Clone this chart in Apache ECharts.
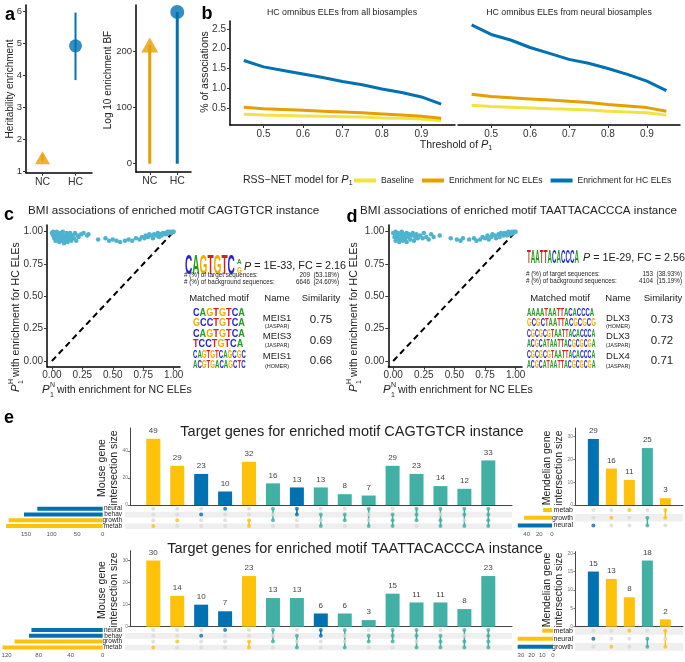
<!DOCTYPE html>
<html><head><meta charset="utf-8">
<script src="https://cdn.jsdelivr.net/npm/echarts@6/dist/echarts.min.js"></script>
<style>html,body{margin:0;padding:0;background:#fff}#chart{width:685px;height:662px}</style>
</head><body><div id="chart"></div>
<script>
// ================= DATA =================
// Panel a
const aCategories = ['NC', 'HC'];
const heritEnrich = [1.42, 4.92];
const heritLow = [1.32, 3.85];
const heritHigh = [1.52, 5.96];
const log10BF = [212, 271];

// Panel b
const thresholds = [0.45, 0.50, 0.55, 0.60, 0.65, 0.70, 0.75, 0.80, 0.85, 0.90, 0.95];
const allBaseline = [0.34, 0.32, 0.31, 0.30, 0.29, 0.28, 0.27, 0.25, 0.24, 0.22, 0.18];
const allNC = [0.52, 0.48, 0.46, 0.44, 0.42, 0.40, 0.38, 0.35, 0.32, 0.29, 0.24];
const allHC = [1.70, 1.54, 1.45, 1.36, 1.27, 1.17, 1.09, 0.98, 0.89, 0.78, 0.60];
const neuralBaseline = [0.57, 0.54, 0.52, 0.50, 0.48, 0.47, 0.45, 0.42, 0.40, 0.38, 0.32];
const neuralNC = [0.85, 0.79, 0.76, 0.73, 0.70, 0.67, 0.64, 0.59, 0.55, 0.51, 0.42];
const neuralHC = [2.60, 2.36, 2.22, 2.03, 1.88, 1.73, 1.63, 1.50, 1.35, 1.18, 0.94];
const seriesNames = ['Baseline', 'Enrichment for NC ELEs', 'Enrichment for HC ELEs'];

// Panel c / d scatter points [P1N, P1H]
const motifCPoints = [[0.00,0.99],[0.01,0.97],[0.01,1.00],[0.02,0.95],[0.02,0.98],[0.03,0.93],[0.03,0.99],[0.04,0.96],[0.04,1.00],[0.05,0.94],[0.05,0.98],[0.06,0.92],[0.06,0.97],[0.07,0.99],[0.07,0.95],[0.08,0.93],[0.08,0.98],[0.09,0.96],[0.09,1.00],[0.10,0.91],[0.10,0.95],[0.11,0.97],[0.11,0.93],[0.12,0.99],[0.12,0.95],[0.13,0.92],[0.13,0.97],[0.14,0.94],[0.15,0.99],[0.15,0.96],[0.16,0.93],[0.17,0.97],[0.18,0.95],[0.19,0.99],[0.20,0.93],[0.21,0.97],[0.22,0.96],[0.24,0.98],[0.26,0.99],[0.29,0.97],[0.30,0.98],[0.38,0.94],[0.44,0.95],[0.47,0.93],[0.50,0.94],[0.53,0.93],[0.56,0.92],[0.60,0.93],[0.63,0.94],[0.66,0.93],[0.69,0.95],[0.72,0.94],[0.74,0.96],[0.76,0.95],[0.77,0.97],[0.79,0.96],[0.80,0.98],[0.82,0.97],[0.83,0.95],[0.84,0.98],[0.86,0.97],[0.87,0.99],[0.88,0.96],[0.89,0.98],[0.90,0.97],[0.91,0.99],[0.92,0.98],[0.93,0.99],[0.94,0.98],[0.95,1.00],[0.96,0.99],[0.97,1.00],[0.98,0.99],[0.99,1.00],[1.00,1.00]];
const motifDPoints = [[0.00,0.99],[0.01,0.96],[0.02,1.00],[0.02,0.93],[0.03,0.97],[0.04,0.99],[0.04,0.95],[0.05,0.92],[0.06,0.98],[0.06,0.95],[0.07,1.00],[0.08,0.96],[0.08,0.93],[0.09,0.98],[0.10,0.95],[0.11,0.99],[0.11,0.92],[0.12,0.96],[0.13,0.98],[0.14,0.94],[0.15,0.97],[0.16,0.99],[0.17,0.93],[0.18,0.96],[0.19,0.98],[0.20,0.95],[0.22,0.97],[0.24,0.95],[0.25,0.99],[0.27,0.96],[0.29,0.94],[0.31,0.98],[0.33,0.96],[0.38,0.97],[0.47,0.95],[0.52,0.94],[0.55,0.93],[0.57,0.95],[0.62,0.94],[0.66,0.95],[0.68,0.93],[0.71,0.94],[0.73,0.96],[0.75,0.95],[0.77,0.97],[0.78,0.94],[0.80,0.96],[0.81,0.98],[0.83,0.97],[0.84,0.95],[0.86,0.98],[0.87,0.96],[0.88,0.99],[0.90,0.97],[0.91,0.99],[0.92,0.98],[0.93,0.97],[0.94,1.00],[0.95,0.99],[0.96,0.98],[0.97,1.00],[0.98,0.99],[0.99,1.00],[1.00,1.00]];

// Panel e (UpSet) - motif 1 (CAGTGTCR)
const mouseSets = ['neural', 'behav', 'growth', 'metab'];
const m1MouseSizes = [49, 29, 23, 10, 32, 16, 13, 13, 8, 7, 29, 23, 14, 12, 33];
const m1MouseCombos = [['metab'],['growth'],['behav'],['neural'],['growth','metab'],['neural','growth'],['neural','behav'],['behav','metab'],['behav','growth'],['neural','metab'],['behav','growth','metab'],['neural','behav','growth'],['neural','growth','metab'],['neural','behav','metab'],['neural','behav','growth','metab']];
const m1MouseSetSizes = [128, 154, 184, 189];
const m1MendSets = ['metab', 'growth', 'neural'];
const m1MendSizes = [29, 16, 11, 25, 3];
const m1MendCombos = [['neural'],['growth'],['metab'],['growth','neural'],['metab','growth']];
const m1MendSetSizes = [14, 44, 54];
// motif 2 (TAATTACACCCA)
const m2MouseSizes = [30, 14, 10, 7, 23, 13, 13, 6, 6, 3, 15, 11, 11, 8, 23];
const m2MouseCombos = [['metab'],['growth'],['behav'],['neural'],['growth','metab'],['neural','growth'],['behav','metab'],['neural','behav'],['neural','metab'],['behav','growth'],['neural','behav','growth'],['neural','behav','metab'],['behav','growth','metab'],['neural','growth','metab'],['neural','behav','growth','metab']];
const m2MouseSetSizes = [89, 92, 110, 125];
const m2MendSets = ['metab', 'neural', 'growth'];
const m2MendSizes = [15, 13, 8, 18, 2];
const m2MendCombos = [['neural'],['growth'],['metab'],['neural','growth'],['metab','growth']];
const m2MendSetSizes = [10, 33, 33];

// ================= STYLE / BUILD =================
const FONT = '"Liberation Sans", Arial, Helvetica, sans-serif';
const BLUE = '#0072B2', YELLOW = '#FFC20A', TEAL = '#42B0A4', ORANGE = '#E69F00', LYELLOW = '#F0E442', PTCOL = '#4DB3CF', GREYDOT = '#DADADA';
const grids = [], xAxes = [], yAxes = [], series = [], graphics = [];
function addGrid(g) { grids.push(Object.assign({ containLabel: false, outerBoundsMode: 'none' }, g)); return grids.length - 1; }
const AXL = { show: true, onZero: false, lineStyle: { color: '#000', width: 1.5 } };
function ticks(vals) { return { show: true, length: 3, customValues: vals, lineStyle: { color: '#333', width: 1 } }; }
function labs(vals, fs, fmt, extra) { return Object.assign({ customValues: vals, fontSize: fs, color: '#333', fontFamily: FONT, formatter: fmt }, extra || {}); }
const NOSPLIT = { show: false };

// ---- panel a left ----
let g = addGrid({ left: 26, top: 5, width: 66, height: 167.7 });
xAxes.push({ gridIndex: g, type: 'category', data: aCategories, axisLine: AXL, axisTick: { show: true, length: 3, alignWithLabel: true, lineStyle: { color: '#333' } }, axisLabel: { fontSize: 10.5, color: '#333', margin: 4 } });
yAxes.push({ gridIndex: g, type: 'value', min: 0.956, max: 6.197, axisLine: AXL, axisTick: ticks([1,2,3,4,5,6]), axisLabel: labs([1,2,3,4,5,6], 9.5, v => String(v), { margin: 4 }), splitLine: NOSPLIT });
const aColors = [ORANGE, BLUE];
series.push({ type: 'custom', xAxisIndex: xAxes.length - 1, yAxisIndex: yAxes.length - 1, encode: { x: 0, y: [1, 2] },
  data: aCategories.map((c, i) => ({ value: [i, heritLow[i], heritHigh[i]], itemStyle: { color: aColors[i] } })),
  renderItem: (p, api) => { const a = api.coord([api.value(0), api.value(1)]), b = api.coord([api.value(0), api.value(2)]);
    return { type: 'line', shape: { x1: a[0], y1: a[1], x2: b[0], y2: b[1] }, style: { stroke: api.visual('color'), lineWidth: 2 } }; } });
series.push({ type: 'scatter', xAxisIndex: xAxes.length - 1, yAxisIndex: yAxes.length - 1,
  data: [{ value: [0, heritEnrich[0]], symbol: 'triangle', symbolSize: [15, 13], itemStyle: { color: ORANGE } },
         { value: [1, heritEnrich[1]], symbol: 'circle', symbolSize: 13, itemStyle: { color: BLUE } }] });

// ---- panel a right ----
g = addGrid({ left: 136, top: 5, width: 55, height: 167 });
xAxes.push({ gridIndex: g, type: 'category', data: aCategories, axisLine: AXL, axisTick: { show: true, length: 3, alignWithLabel: true, lineStyle: { color: '#333' } }, axisLabel: { fontSize: 10.5, color: '#333', margin: 4 } });
yAxes.push({ gridIndex: g, type: 'value', min: -14.8, max: 283.4, axisLine: AXL, axisTick: ticks([0,100,200]), axisLabel: labs([0,100,200], 9.5, v => String(v), { margin: 4 }), splitLine: NOSPLIT });
series.push({ type: 'bar', xAxisIndex: xAxes.length - 1, yAxisIndex: yAxes.length - 1, barWidth: 3,
  data: log10BF.map((v, i) => ({ value: v, itemStyle: { color: aColors[i] } })) });
series.push({ type: 'scatter', xAxisIndex: xAxes.length - 1, yAxisIndex: yAxes.length - 1,
  data: [{ value: [0, log10BF[0]], symbol: 'triangle', symbolSize: [17, 15], itemStyle: { color: ORANGE } },
         { value: [1, log10BF[1]], symbol: 'circle', symbolSize: 14, itemStyle: { color: BLUE } }] });

// ---- panel b ----
const bX = [0.5, 0.6, 0.7, 0.8, 0.9], bY = [0.5, 1, 1.5, 2, 2.5];
const bColors = [LYELLOW, ORANGE, BLUE];
function bFacet(left, width, showY, arrs) {
  const gi = addGrid({ left, top: 21, width, height: 104 });
  xAxes.push({ gridIndex: gi, type: 'value', min: 0.415, max: 0.985, axisLine: AXL, axisTick: ticks(bX), axisLabel: labs(bX, 10, v => v.toFixed(1), { margin: 4 }), splitLine: NOSPLIT });
  yAxes.push({ gridIndex: gi, type: 'value', min: 0.07, max: 2.70, axisLine: { show: showY, lineStyle: { color: '#000', width: 1.5 } }, axisTick: showY ? ticks(bY) : { show: false }, axisLabel: showY ? labs(bY, 10, v => v.toFixed(1), { margin: 4 }) : { show: false }, splitLine: NOSPLIT });
  arrs.forEach((arr, k) => series.push({ type: 'line', name: seriesNames[k], xAxisIndex: xAxes.length - 1, yAxisIndex: yAxes.length - 1,
    showSymbol: false, symbol: 'none', color: bColors[k], lineStyle: { width: 3, color: bColors[k] }, data: thresholds.map((t, i) => [t, arr[i]]) }));
}
bFacet(230, 225, true, [allBaseline, allNC, allHC]);
bFacet(458, 222, false, [neuralBaseline, neuralNC, neuralHC]);

// ---- panel c / d ----
const cT = [0, 0.25, 0.5, 0.75, 1];
function scatterPanel(left, width, pts) {
  const gi = addGrid({ left, top: 225, width, height: 141.7 });
  xAxes.push({ gridIndex: gi, type: 'value', min: -0.04, max: 1.052, axisLine: AXL, axisTick: ticks(cT), axisLabel: labs(cT, 10, v => v.toFixed(2), { margin: 4 }), splitLine: NOSPLIT });
  yAxes.push({ gridIndex: gi, type: 'value', min: -0.044, max: 1.052, axisLine: AXL, axisTick: ticks(cT), axisLabel: labs(cT, 10, v => v.toFixed(2), { margin: 4 }), splitLine: NOSPLIT });
  series.push({ type: 'line', xAxisIndex: xAxes.length - 1, yAxisIndex: yAxes.length - 1, symbol: 'none', data: [[0, 0], [1, 1]], lineStyle: { color: '#000', width: 2, type: [6, 4] }, z: 1 });
  series.push({ type: 'scatter', xAxisIndex: xAxes.length - 1, yAxisIndex: yAxes.length - 1, symbolSize: 4.5, itemStyle: { color: PTCOL, opacity: 1 }, data: pts, z: 2 });
}
scatterPanel(47, 133, motifCPoints);
scatterPanel(388.3, 133.7, motifDPoints);

// ---- panel e UpSet ----
function comboColor(c) {
  if (c.every(s => s === 'neural' || s === 'behav')) return BLUE;
  if (c.every(s => s === 'growth' || s === 'metab')) return YELLOW;
  return TEAL;
}
function defaultSetColor(s) { return (s === 'neural' || s === 'behav') ? BLUE : YELLOW; }
function upset(o) {
  const cats = o.sets.slice().reverse();
  // bars
  const gB = addGrid(o.barsPos);
  xAxes.push({ gridIndex: gB, type: 'value', min: o.xmin, max: o.xmax, axisLine: { show: true, onZero: false, lineStyle: { color: '#444', width: 1 } }, axisTick: { show: false }, axisLabel: { show: false }, splitLine: NOSPLIT });
  yAxes.push({ gridIndex: gB, type: 'value', min: 0, max: o.ymax, axisLine: { show: true, lineStyle: { color: '#444', width: 1 } }, axisTick: { show: true, length: 2, customValues: o.yticks, lineStyle: { color: '#777' } }, axisLabel: { customValues: o.yticks, fontSize: 5, color: '#777', margin: 2 }, splitLine: NOSPLIT });
  series.push({ type: 'bar', xAxisIndex: xAxes.length - 1, yAxisIndex: yAxes.length - 1, barWidth: o.barW,
    data: o.sizes.map((v, i) => ({ value: [i + 1, v], itemStyle: { color: comboColor(o.combos[i]) } })),
    label: { show: true, position: 'top', distance: 4, fontSize: 8, color: '#444', fontFamily: FONT, formatter: p => p.value[1] } });
  // matrix
  const gM = addGrid(o.matPos);
  xAxes.push({ gridIndex: gM, type: 'value', min: o.matXmin, max: o.xmax, show: false, splitLine: NOSPLIT });
  yAxes.push({ gridIndex: gM, type: 'category', data: cats, axisLine: { show: false }, axisTick: { show: false },
    axisLabel: { interval: 0, fontSize: o.rowFs, color: '#222', margin: o.rowMargin, fontFamily: FONT }, splitLine: NOSPLIT,
    splitArea: { show: true, interval: 0, areaStyle: { color: o.shade } } });
  const xi = xAxes.length - 1, yi = yAxes.length - 1;
  const grey = [], col = [], conn = [];
  o.combos.forEach((c, i) => {
    const idx = [];
    o.sets.forEach(s => { const k = cats.indexOf(s);
      if (c.includes(s)) { col.push({ value: [i + 1, k], itemStyle: { color: comboColor(c) } }); idx.push(k); }
      else grey.push([i + 1, k]); });
    if (idx.length > 1) conn.push({ value: [i + 1, Math.min(...idx), Math.max(...idx)], itemStyle: { color: comboColor(c) } });
  });
  series.push({ type: 'scatter', xAxisIndex: xi, yAxisIndex: yi, symbolSize: o.dot, itemStyle: { color: GREYDOT }, data: grey });
  series.push({ type: 'custom', xAxisIndex: xi, yAxisIndex: yi, encode: { x: 0, y: [1, 2] }, data: conn,
    renderItem: (p, api) => { const a = api.coord([api.value(0), api.value(1)]), b = api.coord([api.value(0), api.value(2)]);
      return { type: 'line', shape: { x1: a[0], y1: a[1], x2: b[0], y2: b[1] }, style: { stroke: api.visual('color'), lineWidth: 1.5 } }; } });
  series.push({ type: 'scatter', xAxisIndex: xi, yAxisIndex: yi, symbolSize: o.dot, data: col, z: 3 });
  // set sizes
  const gS = addGrid(o.sizePos);
  xAxes.push({ gridIndex: gS, type: 'value', inverse: true, min: 0, max: o.sizeMax, axisLine: { show: false }, axisTick: { show: false },
    axisLabel: { customValues: o.sizeTicks, fontSize: 6, color: '#555', margin: 2, fontFamily: FONT }, splitLine: NOSPLIT });
  yAxes.push({ gridIndex: gS, type: 'category', data: cats, show: false });
  const setCol = s => (o.setColors && o.setColors[s]) || defaultSetColor(s);
  series.push({ type: 'bar', xAxisIndex: xAxes.length - 1, yAxisIndex: yAxes.length - 1, barWidth: 4,
    data: cats.map(s => ({ value: o.setSizes[o.sets.indexOf(s)], itemStyle: { color: setCol(s) } })) });
}
// top mouse
upset({ sets: mouseSets, sizes: m1MouseSizes, combos: m1MouseCombos, setSizes: m1MouseSetSizes,
  barsPos: { left: 130, top: 428, width: 382, height: 77 }, xmin: 0.026, xmax: 15.99, ymax: 57, yticks: [0, 20, 40], barW: 14,
  matPos: { left: 125, top: 505.8, width: 387, height: 23.2 }, matXmin: -0.183, rowFs: 6.5, rowMargin: 3, shade: ['#efefef', '#ffffff'], dot: 4,
  sizePos: { left: 1, top: 505.8, width: 101.7, height: 23.2 }, sizeMax: 199, sizeTicks: [0, 50, 100, 150] });
// top mendelian
upset({ sets: m1MendSets, sizes: m1MendSizes, combos: m1MendCombos, setSizes: m1MendSetSizes,
  barsPos: { left: 575, top: 428, width: 108, height: 77 }, xmin: -0.02, xmax: 5.98, ymax: 33.8, yticks: [0, 10, 20, 30], barW: 11,
  matPos: { left: 575, top: 506.2, width: 108, height: 23.1 }, matXmin: -0.02, rowFs: 7, rowMargin: 2, shade: ['#ffffff', '#efefef'], dot: 4,
  sizePos: { left: 515, top: 506.2, width: 37, height: 23.1 }, sizeMax: 58.4, sizeTicks: [0, 20, 40] });
// bottom mouse
upset({ sets: mouseSets, sizes: m2MouseSizes, combos: m2MouseCombos, setSizes: m2MouseSetSizes,
  barsPos: { left: 130, top: 550.7, width: 382, height: 76 }, xmin: 0.026, xmax: 15.99, ymax: 34.5, yticks: [0, 10, 20, 30], barW: 14,
  matPos: { left: 125, top: 627.1, width: 387, height: 23.2 }, matXmin: -0.183, rowFs: 6.5, rowMargin: 3, shade: ['#efefef', '#ffffff'], dot: 4,
  sizePos: { left: 1, top: 627.1, width: 101.7, height: 23.2 }, sizeMax: 127, sizeTicks: [0, 40, 80, 120] });
// bottom mendelian
upset({ sets: m2MendSets, sizes: m2MendSizes, combos: m2MendCombos, setSizes: m2MendSetSizes, setColors: { neural: YELLOW, growth: BLUE },
  barsPos: { left: 575, top: 551.7, width: 108, height: 75 }, xmin: -0.02, xmax: 5.98, ymax: 20.4, yticks: [0, 5, 10, 15, 20], barW: 11,
  matPos: { left: 575, top: 626.7, width: 108, height: 24 }, matXmin: -0.02, rowFs: 7, rowMargin: 2, shade: ['#efefef', '#ffffff'], dot: 4,
  sizePos: { left: 515, top: 626.7, width: 38, height: 24 }, sizeMax: 35.5, sizeTicks: [0, 10, 20, 30] });

// ================= TEXT =================
function T(x, y, text, o) {
  o = o || {};
  const al = o.align || 'left', va = o.va || 'middle';
  return { type: 'text', x, y, rotation: o.rot || 0, scaleX: o.sx || 1, scaleY: o.sy || 1, silent: true, z: 10,
    style: { text, fontSize: o.fs || 11, fontFamily: FONT, fontWeight: o.fw || 'normal', fontStyle: o.it ? 'italic' : 'normal',
      fill: o.color || '#222', align: al, verticalAlign: va, textAlign: al, textVerticalAlign: va, lineHeight: o.lh, rich: o.rich } };
}
function subRich(fs) { return { i: { fontStyle: 'italic', fontSize: fs + 0.5, fontFamily: FONT, fill: '#222', lineHeight: 14 }, s: { fontSize: 7, fontFamily: FONT, fill: '#222', verticalAlign: 'bottom', lineHeight: 7 } }; }
// panel letters
graphics.push(T(10, 15, 'a', { fs: 18, fw: 'bold', align: 'center', color: '#000' }));
graphics.push(T(207, 14, 'b', { fs: 18, fw: 'bold', align: 'center', color: '#000' }));
graphics.push(T(9, 215, 'c', { fs: 18, fw: 'bold', align: 'center', color: '#000' }));
graphics.push(T(352, 217, 'd', { fs: 18, fw: 'bold', align: 'center', color: '#000' }));
graphics.push(T(9, 418, 'e', { fs: 18, fw: 'bold', align: 'center', color: '#000' }));
// panel a titles
graphics.push(T(10, 89, 'Heritability enrichment', { fs: 10, rot: Math.PI / 2, align: 'center' }));
graphics.push(T(108, 80, 'Log 10 enrichment BF', { fs: 10, rot: Math.PI / 2, align: 'center' }));
// panel b
graphics.push(T(205, 72, '% of associations', { fs: 10.5, rot: Math.PI / 2, align: 'center' }));
graphics.push(T(342, 13, 'HC omnibus ELEs from all biosamples', { fs: 8.8, align: 'center' }));
graphics.push(T(569, 13, 'HC omnibus ELEs from neural biosamples', { fs: 8.8, align: 'center' }));
graphics.push(T(456, 145, 'Threshold of {i|P}{s|1}', { fs: 10.5, align: 'center', rich: subRich(10.5) }));
graphics.push(T(243, 180, 'RSS\u2212NET model for {i|P}{s|1}', { fs: 10.5, rich: subRich(10.5) }));
// panel c/d titles
graphics.push(T(28, 211, 'BMI associations of enriched motif CAGTGTCR instance', { fs: 11.6 }));
graphics.push(T(360, 211, 'BMI associations of enriched motif TAATTACACCCA instance', { fs: 11.6 }));
function pTitle(x, y, sup, rest, rot) {
  return { type: 'group', x, y, rotation: rot, silent: true, z: 10, children: [
    T(0, 0, 'P', { fs: 11.5, it: true }),
    T(8, -4.5, sup, { fs: 7 }),
    T(8, 5, '1', { fs: 7 }),
    T(15, 0, rest, { fs: 10.5 })] };
}
graphics.push(pTitle(16, 392, 'H', 'with enrichment for HC ELEs', Math.PI / 2));
graphics.push(pTitle(354, 392, 'H', 'with enrichment for HC ELEs', Math.PI / 2));
graphics.push(pTitle(42, 390, 'N', 'with enrichment for NC ELEs', 0));
graphics.push(pTitle(383, 390, 'N', 'with enrichment for NC ELEs', 0));
// motif logos
const LOGOCOL = { A: '#1E9E1E', C: '#2424D0', G: '#F2A900', T: '#D42020' };
function logo(x, y, lines, fs, sx, sy) {
  const rich = {};
  Object.keys(LOGOCOL).forEach(k => rich[k] = { fill: LOGOCOL[k], color: LOGOCOL[k], fontWeight: 'bold', fontSize: fs, fontFamily: FONT, lineHeight: fs });
  const text = lines.map(l => l.split('').map(ch => '{' + ch + '|' + ch + '}').join('')).join('\n');
  return T(x, y, text, { fs, fw: 'bold', sx, sy, rich, lh: fs });
}
// panel c right
graphics.push(logo(185, 266, ['CAGTGTC'], 14, 0.72, 2.0));
graphics.push(logo(237, 262, ['A'], 7, 0.9, 1.0));
graphics.push(logo(237, 271, ['G'], 7, 0.9, 1.2));
const pRich = { i: { fontStyle: 'italic', fontSize: 10.8, fontFamily: FONT, fill: '#222' } };
graphics.push(T(244, 266.5, '{i|P} = 1E-33, FC = 2.16', { fs: 10.8, rich: pRich }));
graphics.push(T(184, 275, '# (%) of target sequences:', { fs: 6.3 }));
graphics.push(T(339, 275, '209  (53.18%)', { fs: 6.3, align: 'right' }));
graphics.push(T(184, 282, '# (%) of background sequences:', { fs: 6.3 }));
graphics.push(T(339, 282, '6646  (24.60%)', { fs: 6.3, align: 'right' }));
graphics.push(T(219, 298, 'Matched motif', { fs: 9.5, align: 'center' }));
graphics.push(T(277, 298, 'Name', { fs: 9.5, align: 'center' }));
graphics.push(T(321, 298, 'Similarity', { fs: 9.5, align: 'center' }));
const cNames = ['MEIS1', 'MEIS3', 'MEIS1'], cDb = ['(JASPAR)', '(JASPAR)', '(HOMER)'], cSim = ['0.75', '0.69', '0.66'];
const dNames = ['DLX3', 'DLX3', 'DLX4'], dDb = ['(HOMER)', '(JASPAR)', '(JASPAR)'], dSim = ['0.73', '0.72', '0.71'];
const rowNameY = [318.5, 336, 356.5], rowDbY = [326.5, 345.5, 366], rowSimY = [319.5, 340.7, 360.7], rowLogoY = [318, 339, 360];
const cLogos = [['CAGTGTCA', 'GCCTGTCA'], ['CAGTGTCA', 'TCCTGTCA'], ['CAGTGTCAGCGC', 'ACGTGACAGCTC']];
const dLogos = [['AAAATAATTACACCCA', 'GCGCTAATTACGCGCG'], ['CGCGCGTAATTACACCCA', 'ACGCATAATTACGCGCGA'], ['CGCGCGTAATTACACCCA', 'ACGCATAATTACGCGCGA']];
for (let r = 0; r < 3; r++) {
  graphics.push(T(277, rowNameY[r], cNames[r], { fs: 9.5, align: 'center' }));
  graphics.push(T(277, rowDbY[r], cDb[r], { fs: 5.5, align: 'center' }));
  graphics.push(T(321, rowSimY[r], cSim[r], { fs: 11.5, align: 'center' }));
  graphics.push(logo(193, rowLogoY[r], cLogos[r], 8, 52 / (cLogos[r][0].length * 8 * 0.71), 1.3));
  graphics.push(T(618, rowNameY[r], dNames[r], { fs: 9.5, align: 'center' }));
  graphics.push(T(618, rowDbY[r], dDb[r], { fs: 5.5, align: 'center' }));
  graphics.push(T(662, rowSimY[r], dSim[r], { fs: 11.5, align: 'center' }));
  graphics.push(logo(527, rowLogoY[r], dLogos[r], 8, 68 / (dLogos[r][0].length * 8 * 0.71), 1.3));
}
// panel d right
graphics.push(logo(527, 258, ['TAATTACACCCA'], 12, 0.52, 1.5));
graphics.push(T(583, 258, '{i|P} = 1E-29, FC = 2.56', { fs: 10.8, rich: pRich }));
graphics.push(T(526, 274.3, '# (%) of target sequences:', { fs: 6.3 }));
graphics.push(T(682, 274.3, '153  (38.93%)', { fs: 6.3, align: 'right' }));
graphics.push(T(526, 281, '# (%) of background sequences:', { fs: 6.3 }));
graphics.push(T(682, 281, '4104  (15.19%)', { fs: 6.3, align: 'right' }));
graphics.push(T(560, 298, 'Matched motif', { fs: 9.5, align: 'center' }));
graphics.push(T(618, 298, 'Name', { fs: 9.5, align: 'center' }));
graphics.push(T(663, 298, 'Similarity', { fs: 9.5, align: 'center' }));
// panel e texts
graphics.push(T(352, 432, 'Target genes for enriched motif CAGTGTCR instance', { fs: 14.5, align: 'center' }));
graphics.push(T(355, 549, 'Target genes for enriched motif TAATTACACCCA instance', { fs: 14.5, align: 'center' }));
graphics.push(T(108, 468, 'Mouse gene\nintersection size', { fs: 10.5, rot: Math.PI / 2, align: 'center', lh: 12 }));
graphics.push(T(108, 590, 'Mouse gene\nintersection size', { fs: 10.5, rot: Math.PI / 2, align: 'center', lh: 12 }));
graphics.push(T(553, 468, 'Mendelian gene\nintersection size', { fs: 10.5, rot: Math.PI / 2, align: 'center', lh: 12 }));
graphics.push(T(553, 590, 'Mendelian gene\nintersection size', { fs: 10.5, rot: Math.PI / 2, align: 'center', lh: 12 }));

const chart = echarts.init(document.getElementById('chart'), null, { renderer: 'canvas' });
chart.setOption({
  animation: false,
  backgroundColor: '#fff',
  textStyle: { fontFamily: FONT },
  grid: grids, xAxis: xAxes, yAxis: yAxes, series,
  legend: { data: seriesNames, left: 349, top: 171, width: 336, orient: 'horizontal', icon: 'rect', itemWidth: 22, itemHeight: 4, itemGap: 8, selectedMode: false,
    textStyle: { fontSize: 8.6, color: '#222', fontFamily: FONT } },
  graphic: graphics
});
</script></body></html>
